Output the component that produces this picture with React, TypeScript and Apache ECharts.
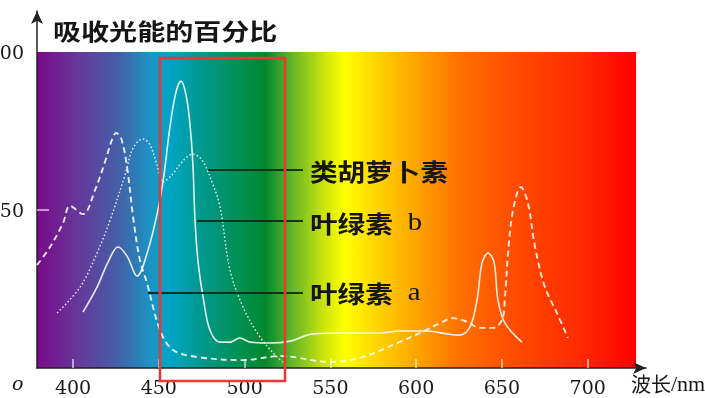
import React, { useEffect, useRef } from "react";
import * as echarts from "echarts";

// ---- axis ticks ----
const xTickValues = [400, 450, 500, 550, 600, 650, 700];
const yTickLabels = [50, 100];
const yTickMarks = [50];

// ---- chlorophyll a (solid) ----
const chlANm = [405.8, 414.0, 420.4, 426.2, 431.5, 437.3, 443.7, 449.5, 453.0, 456.5, 460.0, 462.9, 465.9, 468.2, 469.9, 471.1, 472.9, 475.8, 479.8, 485.7, 491.5, 497.3, 503.2, 514.8, 526.5, 539.9, 559.7, 578.9, 590.6, 606.3, 618.0, 625.6, 631.4, 635.5, 638.4, 641.9, 645.4, 647.7, 651.8, 661.7];
const chlAPct = [17.7, 25.6, 33.5, 38.3, 35.4, 29.1, 37.3, 50.0, 61.1, 76.3, 87.3, 90.8, 86.4, 76.9, 64.2, 46.8, 33.5, 22.5, 12.0, 8.2, 8.2, 9.5, 8.2, 7.9, 8.5, 10.8, 11.1, 11.1, 11.7, 11.7, 10.8, 10.4, 13.0, 21.5, 33.2, 36.4, 33.5, 21.5, 14.2, 8.2];

// ---- chlorophyll b (dashed) ----
const chlBNm = [379.0, 386.6, 394.2, 398.2, 405.8, 412.8, 418.6, 422.7, 425.1, 428.0, 431.5, 435.0, 439.0, 443.1, 450.7, 458.3, 472.3, 499.1, 521.0, 549.8, 569.0, 588.9, 602.3, 613.9, 621.5, 629.7, 637.2, 644.8, 650.1, 651.8, 653.6, 656.5, 661.1, 665.2, 669.3, 675.1, 682.1, 688.5];
const chlBPct = [32.6, 38.3, 45.9, 51.3, 48.7, 56.3, 65.2, 72.2, 74.4, 72.8, 63.6, 47.8, 34.2, 26.9, 12.0, 5.7, 3.5, 2.5, 3.8, 1.9, 3.5, 7.9, 11.1, 14.2, 15.8, 14.6, 12.7, 12.7, 15.2, 22.5, 36.4, 50.0, 57.3, 52.2, 38.3, 25.6, 17.4, 9.5];

// ---- carotenoids (dotted) ----
const caroNm = [390.7, 404.1, 414.0, 421.6, 430.3, 435.0, 440.8, 444.9, 449.0, 452.4, 457.7, 463.5, 469.9, 475.2, 481.0, 485.7, 491.5, 499.1, 509.0, 518.9, 522.4];
const caroPct = [17.4, 25.6, 36.4, 46.8, 61.1, 69.6, 72.5, 70.6, 64.2, 58.9, 61.1, 65.2, 67.7, 65.8, 58.9, 50.9, 31.0, 19.3, 9.8, 3.5, 1.9];

// ---- visible spectrum band ----
const spectrumRange = [379, 728.2];
const spectrumOffsets = [0, 0.072, 0.139, 0.189, 0.222, 0.272, 0.339, 0.381, 0.422, 0.481, 0.514, 0.573, 0.639, 0.706, 0.79, 0.906, 1];
const spectrumColors = ["#7a0a8a", "#643a9a", "#4262a8", "#1b94c4", "#00a5c5", "#00998f", "#009050", "#00882f", "#5cb22a", "#d0e60a", "#ffff00", "#ffd000", "#ffa000", "#ff7000", "#ff4e00", "#ff2a00", "#ff0000"];

// ---- text ----
const titleText = "吸收光能的百分比";
const labelCarotene = "类胡萝卜素";
const labelChlB = ["叶绿素", "b"];
const labelChlA = ["叶绿素", "a"];
const xAxisName = ["波长", "/nm"];

const zip = (xs: number[], ys: number[]) => xs.map((x, i) => [x, ys[i]]);

export default function App() {
  const ref = useRef<HTMLDivElement>(null);
  useEffect(() => {
    const chart = echarts.init(ref.current!, null, { renderer: "svg" });
    const serif = "DejaVu Serif";
    const cjk = "Noto Sans CJK SC";
    const white = "rgba(255,255,255,0.88)";
    const cjkLabel = (text: string, y: number) => ({
      type: "text",
      x: 310,
      y,
      scaleX: 1.15,
      z: 20,
      style: { text, fontFamily: cjk, fontSize: 24, fontWeight: "bold", fill: "#151515", verticalAlign: "middle", align: "left" },
    });
    const mixLabel = (parts: string[], y: number) => ({
      type: "text",
      x: 310,
      y,
      scaleX: 1.15,
      z: 20,
      style: {
        text: `{c|${parts[0]}}{l|${parts[1]}}`,
        verticalAlign: "middle",
        align: "left",
        rich: {
          c: { fontFamily: cjk, fontSize: 24, fontWeight: "bold", fill: "#151515" },
          l: { fontFamily: "Liberation Serif", fontSize: 25, fill: "#151515", padding: [0, 0, 0, 13] },
        },
      },
    });
    const leader = (x1: number, y: number) => ({
      type: "line",
      z: 15,
      shape: { x1, y1: y, x2: 303, y2: y },
      style: { stroke: "rgba(20,35,25,0.9)", lineWidth: 2 },
    });
    const option: any = {
      animation: false,
      grid: { left: 37, top: 11, width: 609, height: 357, outerBoundsMode: "none", containLabel: false },
      xAxis: {
        type: "value",
        min: 379,
        max: 734,
        z: 3,
        axisLine: { show: true, symbol: ["none", "arrow"], symbolSize: [9, 13], lineStyle: { color: "#222", width: 1.5 } },
        axisTick: { show: true, inside: true, length: 9, customValues: xTickValues, lineStyle: { color: "rgba(255,255,255,0.75)", width: 1.5 } },
        axisLabel: { customValues: xTickValues, fontFamily: serif, fontSize: 19, color: "#1a1a1a", margin: 9 },
        splitLine: { show: false },
      },
      yAxis: {
        type: "value",
        min: 0,
        max: 113,
        z: 3,
        axisLine: { show: true, symbol: ["none", "arrow"], symbolSize: [9, 13], lineStyle: { color: "#222", width: 1.5 } },
        axisTick: { show: true, inside: true, length: 12, customValues: yTickMarks, lineStyle: { color: "rgba(255,255,255,0.75)", width: 1.5 } },
        axisLabel: { customValues: yTickLabels, fontFamily: serif, fontSize: 19, color: "#1a1a1a", margin: 13, verticalAlign: "middle", padding: [5, 0, 0, 0] },
        splitLine: { show: false },
      },
      series: [
        {
          name: "spectrum",
          type: "line",
          z: 1,
          silent: true,
          symbol: "none",
          data: [[spectrumRange[0], 0]],
          lineStyle: { opacity: 0 },
          markArea: {
            silent: true,
            z: 1,
            itemStyle: {
              color: new echarts.graphic.LinearGradient(0, 0, 1, 0, spectrumOffsets.map((o, i) => ({ offset: o, color: spectrumColors[i] }))),
            },
            data: [[{ xAxis: spectrumRange[0], yAxis: 0 }, { xAxis: spectrumRange[1], yAxis: 100 }]],
          },
        },
        {
          name: "叶绿素 a",
          type: "line",
          z: 5,
          symbol: "none",
          smooth: 0.35,
          data: zip(chlANm, chlAPct),
          lineStyle: { color: white, width: 1.6 },
        },
        {
          name: "叶绿素 b",
          type: "line",
          z: 5,
          symbol: "none",
          smooth: 0.35,
          data: zip(chlBNm, chlBPct),
          lineStyle: { color: white, width: 1.9, type: [6, 4] },
        },
        {
          name: "类胡萝卜素",
          type: "line",
          z: 5,
          symbol: "none",
          smooth: 0.35,
          data: zip(caroNm, caroPct),
          lineStyle: { color: white, width: 1.4, type: [1.6, 2.2] },
        },
      ],
      graphic: [
        {
          type: "text",
          x: 53,
          y: 30,
          scaleX: 1.22,
          z: 20,
          style: { text: titleText, fontFamily: cjk, fontSize: 23, fontWeight: "bold", fill: "#151515", verticalAlign: "middle", align: "left" },
        },
        {
          type: "text",
          x: 12,
          y: 383,
          z: 20,
          style: { text: "o", fontFamily: serif, fontStyle: "italic", fontSize: 19, fill: "#1a1a1a", verticalAlign: "middle", align: "left" },
        },
        {
          type: "text",
          x: 631,
          y: 383,
          z: 20,
          style: {
            text: `{c|${xAxisName[0]}}{s|${xAxisName[1]}}`,
            verticalAlign: "middle",
            align: "left",
            rich: {
              c: { fontFamily: cjk, fontSize: 20, fill: "#151515" },
              s: { fontFamily: "Liberation Serif", fontSize: 22, fill: "#151515" },
            },
          },
        },
        leader(208, 170),
        leader(197, 221),
        leader(148, 293),
        cjkLabel(labelCarotene, 170),
        mixLabel(labelChlB, 222),
        mixLabel(labelChlA, 292),
        {
          type: "rect",
          z: 30,
          shape: { x: 160, y: 58, width: 125, height: 323 },
          style: { fill: "none", stroke: "#ee3535", lineWidth: 2.5 },
        },
      ],
    };
    chart.setOption(option);
    return () => chart.dispose();
  }, []);
  return <div ref={ref} style={{ position: "fixed", left: 0, top: 0, width: 705, height: 398 }} />;
}
